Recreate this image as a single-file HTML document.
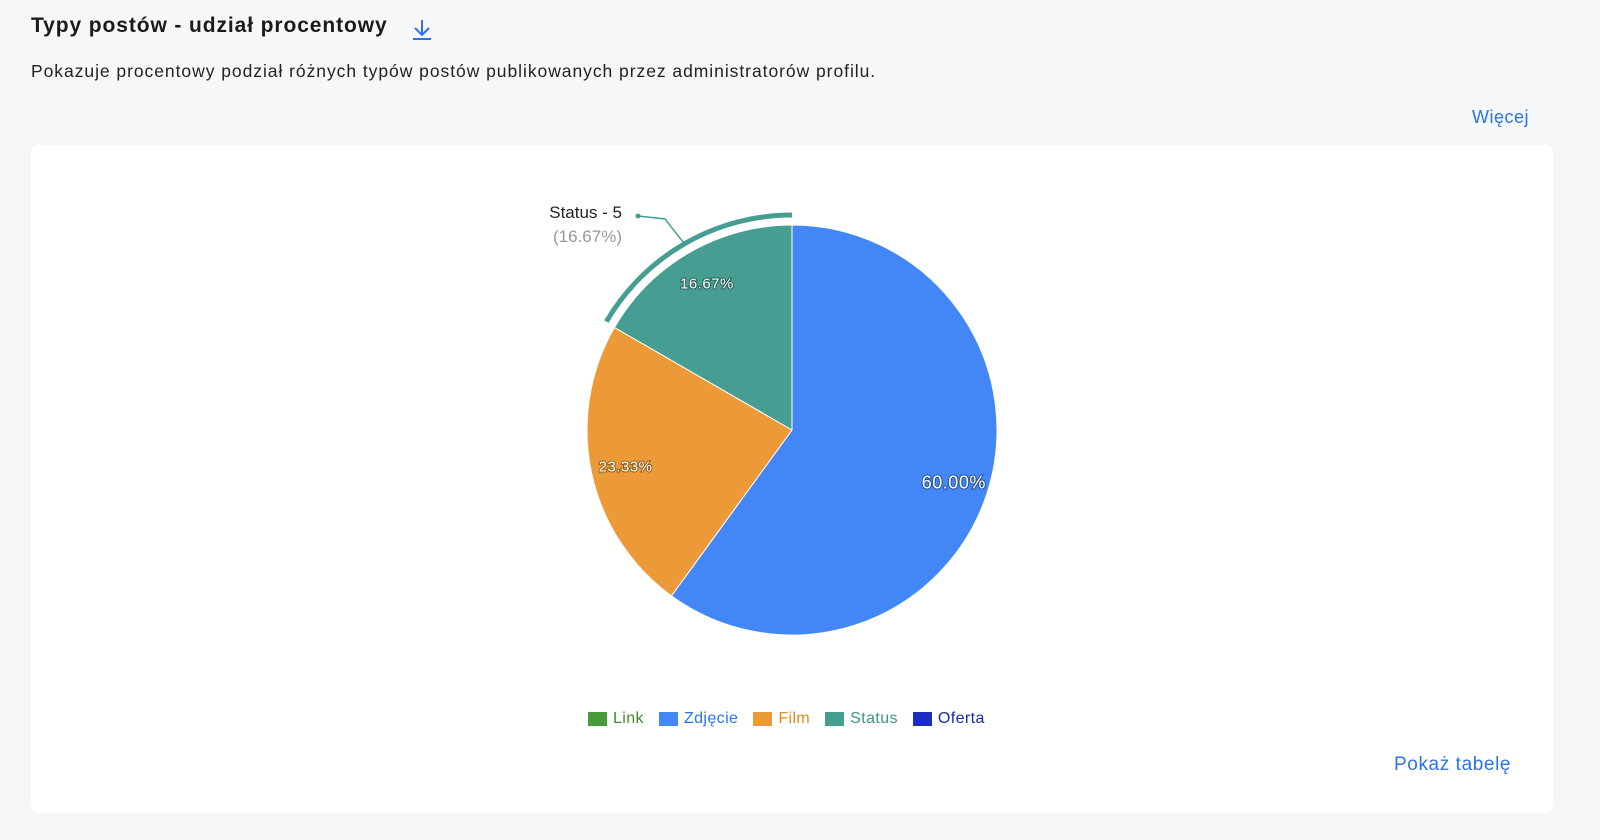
<!DOCTYPE html>
<html><head><meta charset="utf-8"><style>
body{margin:0;width:1600px;height:840px;background:#f6f7f9;font-family:"Liberation Sans",sans-serif;position:relative;overflow:hidden}
.t{position:absolute;white-space:nowrap}
</style></head><body>
<div class="t" style="left:31px;top:14px;font-size:21px;font-weight:bold;color:#1a1a1a;letter-spacing:0.9px">Typy postów - udział procentowy</div>
<svg style="position:absolute;left:410px;top:17px" width="24" height="24" viewBox="0 0 24 24"><path d="M12 3v14M5 11l7 7 7-7" stroke="#2a73e8" stroke-width="2" fill="none"/><path d="M3 22h18" stroke="#2a73e8" stroke-width="2"/></svg>
<div class="t" style="left:31px;top:61px;font-size:17.5px;color:#222;letter-spacing:0.95px">Pokazuje procentowy podział różnych typów postów publikowanych przez administratorów profilu.</div>
<div class="t" style="left:1472px;top:107px;font-size:18px;color:#2a73e8;letter-spacing:0.5px">Więcej</div>
<div style="position:absolute;left:31px;top:145px;width:1522px;height:668px;background:#fff;border-radius:8px"></div>
<svg id="pie" style="position:absolute;left:0;top:0" width="1600" height="840"></svg>
<div style="position:absolute;left:588px;top:710px;font-size:16px;display:flex;gap:15px;letter-spacing:0.4px" id="legend"></div>
<div class="t" style="left:1394px;top:754px;font-size:19px;color:#2a73e8;letter-spacing:0.6px">Pokaż tabelę</div>
<script>
const categories=["Link","Zdjęcie","Film","Status","Oferta"];
const counts=[0,18,7,5,0];
const colors=["#4a9a3c","#4287f5","#ec9a37","#469e92","#1a2fbf"];
const textColors=["#3f8a32","#2a73e8","#e08a25","#3f9488","#1a2a9f"];
const total=counts.reduce((a,b)=>a+b,0);
const cx=792,cy=430,R=205;
const svg=document.getElementById('pie');
const NS="http://www.w3.org/2000/svg";
function pt(a,r){return [cx+r*Math.sin(a),cy-r*Math.cos(a)];}
let a0=0;
counts.forEach((v,i)=>{
  if(!v)return;
  const a1=a0+v/total*2*Math.PI;
  const p0=pt(a0,R),p1=pt(a1,R),lg=(a1-a0)>Math.PI?1:0;
  const p=document.createElementNS(NS,'path');
  p.setAttribute('d',`M${cx},${cy}L${p0[0]},${p0[1]}A${R},${R} 0 ${lg} 1 ${p1[0]},${p1[1]}Z`);
  p.setAttribute('fill',colors[i]);p.setAttribute('stroke','#fff');p.setAttribute('stroke-width','1');
  
  
  svg.appendChild(p);
  const pct=(v/total*100).toFixed(2)+'%';
  const m=(a0+a1)/2,lp=pt(m,R*0.83);
  const t=document.createElementNS(NS,'text');
  t.setAttribute('x',lp[0]);t.setAttribute('y',lp[1]+6);t.setAttribute('text-anchor','middle');
  t.setAttribute('font-size',v/total>0.5?'18':'15');t.setAttribute('fill','#fff');
  t.setAttribute('font-family','Liberation Sans, sans-serif');
  t.setAttribute('style','paint-order:stroke;stroke:rgba(0,0,0,0.4);stroke-width:2px;letter-spacing:0.5px');
  t.textContent=pct;
  
  
  svg.appendChild(t);
  if(categories[i]==="Status"){
    const r2=215,q0=pt(a0+0.005,r2),q1=pt(a1,r2);
    const h=document.createElementNS(NS,'path');
    h.setAttribute('d',`M${q0[0]},${q0[1]}A${r2},${r2} 0 0 1 ${q1[0]},${q1[1]}`);
    h.setAttribute('stroke',colors[i]);h.setAttribute('stroke-width','5');h.setAttribute('fill','none');
    
    
    svg.appendChild(h);
    const c=pt(m,r2);
    const l=document.createElementNS(NS,'path');
    l.setAttribute('d',`M638,216L665,219L${c[0]},${c[1]}`);
    l.setAttribute('stroke',colors[i]);l.setAttribute('stroke-width','1.5');l.setAttribute('fill','none');
    
    
    svg.appendChild(l);
    const d=document.createElementNS(NS,'circle');
    d.setAttribute('cx',638);d.setAttribute('cy',216);d.setAttribute('r',2.5);d.setAttribute('fill',colors[i]);
    
    
    svg.appendChild(d);
    const t1=document.createElementNS(NS,'text');
    t1.setAttribute('x',622);t1.setAttribute('y',218);t1.setAttribute('text-anchor','end');t1.setAttribute('font-size','17');t1.setAttribute('fill','#222');t1.setAttribute('font-family','Liberation Sans, sans-serif');
    t1.textContent=categories[i]+' - '+v;
    
    
    svg.appendChild(t1);
    const t2=document.createElementNS(NS,'text');
    t2.setAttribute('x',622);t2.setAttribute('y',242);t2.setAttribute('text-anchor','end');t2.setAttribute('font-size','17');t2.setAttribute('fill','#999');t2.setAttribute('font-family','Liberation Sans, sans-serif');
    t2.textContent='('+pct+')';
    
    
    svg.appendChild(t2);
  }
  a0=a1;
});
const lg=document.getElementById('legend');
categories.forEach((c,i)=>{
  const e=document.createElement('div');
  
  
  e.style.cssText='display:flex;align-items:center;gap:6px;color:'+textColors[i];
  e.innerHTML='<span style="display:inline-block;width:19px;height:14px;background:'+colors[i]+'"></span>'+c;
  lg.appendChild(e);
});
</script>
</body></html>
